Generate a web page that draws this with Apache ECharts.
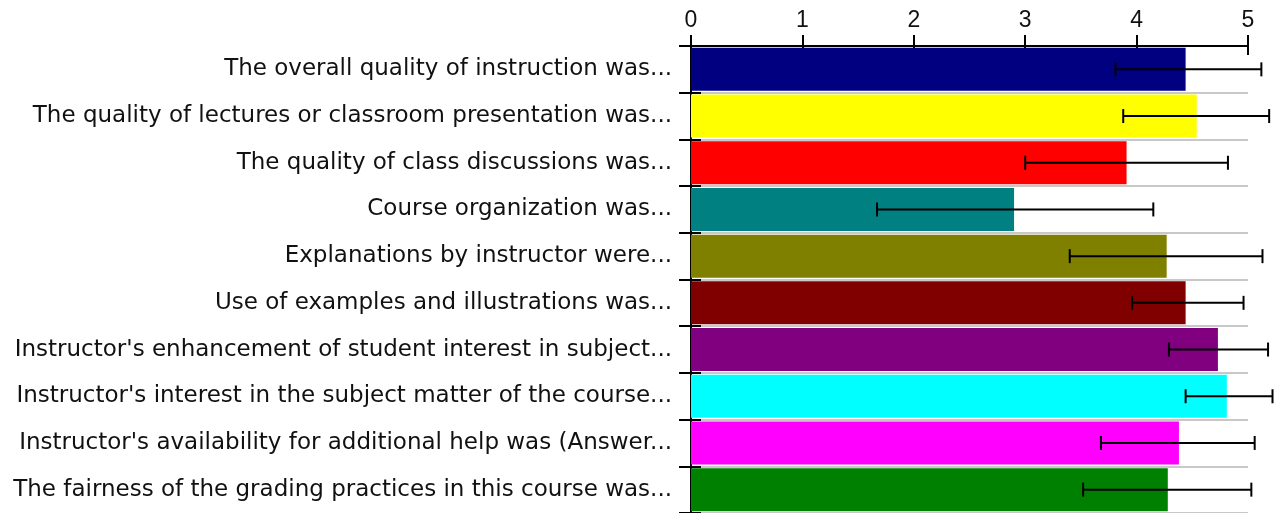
<!DOCTYPE html>
<html>
<head>
<meta charset="utf-8">
<script src="https://cdn.jsdelivr.net/npm/echarts@6/dist/echarts.min.js"></script>
<style>
  html, body { margin: 0; padding: 0; background: #fff; }
  #chart { width: 1276px; height: 513px; }
</style>
</head>
<body>
<div id="chart"></div>
<script>
// questions, top to bottom
const questions = [
  'The overall quality of instruction was...',
  'The quality of lectures or classroom presentation was...',
  'The quality of class discussions was...',
  'Course organization was...',
  'Explanations by instructor were...',
  'Use of examples and illustrations was...',
  "Instructor's enhancement of student interest in subject...",
  "Instructor's interest in the subject matter of the course...",
  "Instructor's availability for additional help was (Answer...",
  'The fairness of the grading practices in this course was...',
];

// mean score per question
const means = [4.44, 4.54, 3.91, 2.90, 4.27, 4.44, 4.73, 4.81, 4.38, 4.28];
// error bar ends
const errLow = [3.81, 3.88, 3.00, 1.67, 3.40, 3.96, 4.29, 4.44, 3.68, 3.52];
const errHigh = [5.12, 5.19, 4.82, 4.15, 5.13, 4.96, 5.18, 5.22, 5.06, 5.03];

const tickValues = [0, 1, 2, 3, 4, 5];

const barColors = ['#000080', '#ffff00', '#ff0000', '#008080', '#808000',
  '#800000', '#800080', '#00ffff', '#ff00ff', '#008000'];

const chart = echarts.init(document.getElementById('chart'));

const valueAxisBase = {
  type: 'value',
  position: 'top',
  min: tickValues[0],
  max: tickValues[tickValues.length - 1],
  interval: 1,
  splitLine: { show: false },
};

chart.setOption({
  animation: false,
  grid: { left: 691, right: 28, top: 46, bottom: -3, containLabel: false },
  xAxis: [
    Object.assign({}, valueAxisBase, {
      axisLine: { show: true, lineStyle: { color: '#000', width: 2 } },
      axisTick: { show: true, length: 11, lineStyle: { color: '#000', width: 2 } },
      axisLabel: { color: '#111', fontFamily: 'Liberation Sans', fontSize: 23, margin: 14 },
    }),
    // ticks that poke down into the plot
    Object.assign({}, valueAxisBase, {
      axisLine: { show: false },
      axisTick: { show: true, inside: true, length: 9, lineStyle: { color: '#000', width: 2 } },
      axisLabel: { show: false },
    }),
  ],
  yAxis: [
    {
      type: 'category',
      inverse: true,
      data: questions,
      axisLine: { show: true, lineStyle: { color: '#000', width: 2 } },
      axisTick: { show: true, length: 12, lineStyle: { color: '#000', width: 2 } },
      axisLabel: {
        color: '#111', fontFamily: 'DejaVu Sans', fontSize: 23, margin: 19,
        padding: [4, 0, 0, 0],
      },
      splitLine: { show: true, lineStyle: { color: '#c8c8c8', width: 2 } },
    },
    {
      type: 'category',
      inverse: true,
      position: 'left',
      data: questions,
      axisLine: { show: false },
      axisTick: { show: true, inside: true, length: 10, lineStyle: { color: '#000', width: 2 } },
      axisLabel: { show: false },
      splitLine: { show: false },
    },
  ],
  series: [
    {
      type: 'bar',
      xAxisIndex: 0,
      yAxisIndex: 0,
      barWidth: 43,
      data: means.map((v, i) => ({ value: v, itemStyle: { color: barColors[i] } })),
      z: 2,
    },
    {
      type: 'custom',
      xAxisIndex: 0,
      yAxisIndex: 0,
      data: errLow.map((lo, i) => [i, lo, errHigh[i]]),
      encode: { x: [1, 2], y: 0 },
      renderItem: function (params, api) {
        const idx = api.value(0);
        const p1 = api.coord([api.value(1), idx]);
        const p2 = api.coord([api.value(2), idx]);
        const y = p1[1];
        const half = 7;
        const style = { stroke: '#000', lineWidth: 2 };
        return {
          type: 'group',
          children: [
            { type: 'line', shape: { x1: p1[0], y1: y, x2: p2[0], y2: y }, style: style },
            { type: 'line', shape: { x1: p1[0], y1: y - half, x2: p1[0], y2: y + half }, style: style },
            { type: 'line', shape: { x1: p2[0], y1: y - half, x2: p2[0], y2: y + half }, style: style },
          ],
        };
      },
      z: 5,
    },
  ],
});
</script>
</body>
</html>
